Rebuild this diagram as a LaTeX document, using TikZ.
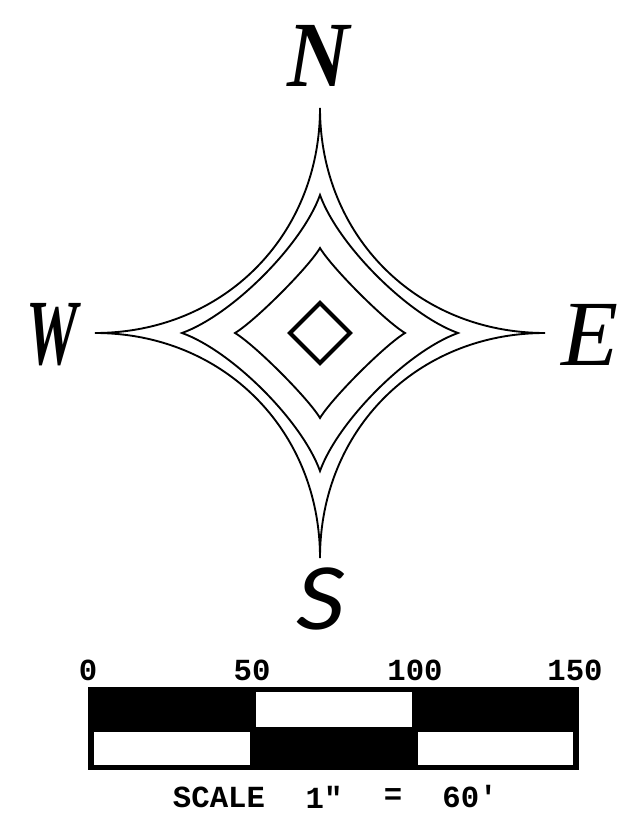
\documentclass[tikz,border=0pt]{standalone}
\usepackage{fontspec}
\setmainfont{Liberation Serif}
\setsansfont{Lato}
\setmonofont{Liberation Mono}[BoldFont={Liberation Mono Bold}]
\tikzset{
  compass/.style={font=\rmfamily\bfseries\itshape\fontsize{70}{70}\selectfont, inner sep=0pt},
  barlabel/.style={font=\ttfamily\bfseries\fontsize{23}{23}\selectfont, inner sep=0pt},
}
\begin{document}
\begin{tikzpicture}[x=0.75pt, y=-0.75pt, line join=miter]
\useasboundingbox (0,0) rectangle (621,837);
% compass stars (tip distance / two control offsets)
\foreach \r/\p/\q in {225/0/97, 138/18/88, 85/12/65} {
  \draw[line width=1.4pt] (320,333-\r)
    .. controls (320+\p,333-\q) and (320+\q,333-\p) .. (320+\r,333)
    .. controls (320+\q,333+\p) and (320+\p,333+\q) .. (320,333+\r)
    .. controls (320-\p,333+\q) and (320-\q,333+\p) .. (320-\r,333)
    .. controls (320-\q,333-\p) and (320-\p,333-\q) .. (320,333-\r) -- cycle;
}
% inner diamond
\draw[line width=3pt] (320,303) -- (350,333) -- (320,363) -- (290,333) -- cycle;
% compass letters
\node[compass, xscale=0.92] (north) at (318,56) {N};
\node[compass, font=\rmfamily\itshape\fontsize{70}{70}\selectfont] (east) at (590,335) {E};
\node[compass, xscale=0.62] (west) at (52,335) {W};
\node[compass, font=\sffamily\itshape\fontsize{64}{64}\selectfont, xscale=1.15] (south) at (321,599) {S};
% scale bar
\fill[black] (88,687) rectangle (579,770);
\fill[white] (256,692) rectangle (412,727);
\fill[white] (94,732) rectangle (250,765);
\fill[white] (418,732) rectangle (573,765);
\foreach \x/\xl in {88/0, 252/50, 415/100, 575/150} {
  \node[barlabel] (bar\xl) at (\x,670) {\xl};
}
\node[barlabel] (scaleword) at (219,797) {SCALE};
\node[barlabel] (scaleinch) at (324,797) {1"};
\node[barlabel] (scaleeq) at (393,797) {=};
\node[barlabel] (scalefeet) at (470,797) {60′};
\end{tikzpicture}
\end{document}
